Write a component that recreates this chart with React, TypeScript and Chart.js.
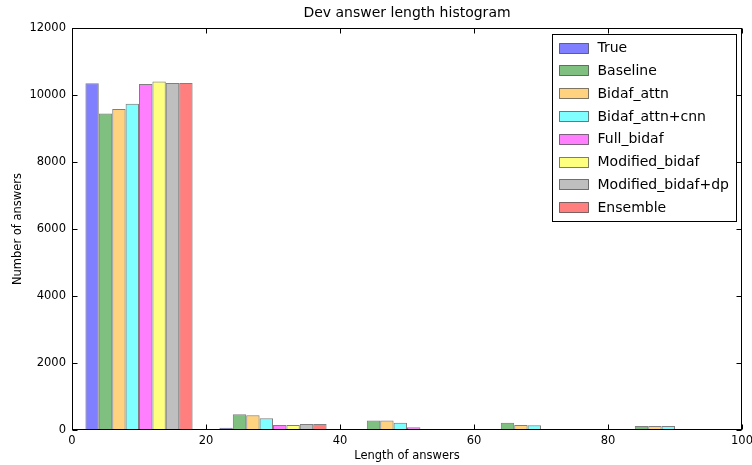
import React, { useEffect, useRef } from "react";
import { Chart, registerables } from "chart.js";

Chart.register(...registerables);

// ---- data ----
const binCenters = [10, 30, 50, 70, 90];
const xTickValues = [0, 20, 40, 60, 80, 100];
const yMax = 12000;
const yStep = 2000;

const seriesNames = [
  "True",
  "Baseline",
  "Bidaf_attn",
  "Bidaf_attn+cnn",
  "Full_bidaf",
  "Modified_bidaf",
  "Modified_bidaf+dp",
  "Ensemble",
];

const trueCounts = [10350, 70, 0, 0, 0];
const baselineCounts = [9450, 470, 280, 220, 120];
const bidafAttnCounts = [9580, 440, 280, 150, 120];
const bidafAttnCnnCounts = [9740, 350, 220, 140, 120];
const fullBidafCounts = [10330, 150, 80, 20, 20];
const modifiedBidafCounts = [10400, 150, 20, 20, 10];
const modifiedBidafDpCounts = [10360, 180, 20, 20, 20];
const ensembleCounts = [10360, 180, 20, 20, 20];

const seriesValues = [
  trueCounts,
  baselineCounts,
  bidafAttnCounts,
  bidafAttnCnnCounts,
  fullBidafCounts,
  modifiedBidafCounts,
  modifiedBidafDpCounts,
  ensembleCounts,
];

const seriesColors = [
  "rgba(0,0,255,0.5)",
  "rgba(0,128,0,0.5)",
  "rgba(255,165,0,0.5)",
  "rgba(0,255,255,0.5)",
  "rgba(255,0,255,0.5)",
  "rgba(255,255,0,0.5)",
  "rgba(128,128,128,0.5)",
  "rgba(255,0,0,0.5)",
];

const FONT = "'DejaVu Sans', sans-serif";

const mplPlugin = {
  id: "mplFrame",
  afterDraw(chart: any) {
    const { ctx, chartArea: a, scales } = chart;
    const L = Math.round(a.left) + 0.5;
    const R = Math.round(a.right) - 0.5;
    const T = Math.round(a.top) + 0.5;
    const B = Math.round(a.bottom) - 0.5;
    ctx.save();
    ctx.strokeStyle = "#000";
    ctx.lineWidth = 1;
    // ticks (inward, all sides)
    const tl = 5;
    ctx.beginPath();
    scales.x.ticks.forEach((t: any) => {
      const px = Math.round(scales.x.getPixelForValue(t.value)) + 0.5;
      ctx.moveTo(px, B);
      ctx.lineTo(px, B - tl);
      ctx.moveTo(px, T);
      ctx.lineTo(px, T + tl);
    });
    scales.y.ticks.forEach((t: any) => {
      const py = Math.round(scales.y.getPixelForValue(t.value)) + 0.5;
      ctx.moveTo(L, py);
      ctx.lineTo(L + tl, py);
      ctx.moveTo(R, py);
      ctx.lineTo(R - tl, py);
    });
    ctx.stroke();
    ctx.strokeRect(L, T, R - L, B - T);

    // legend
    const ds = chart.data.datasets;
    ctx.font = `14px ${FONT}`;
    let maxW = 0;
    ds.forEach((d: any) => {
      maxW = Math.max(maxW, ctx.measureText(d.label).width);
    });
    const rowH = 22.8;
    const padL = 6;
    const swW = 29;
    const swH = 10;
    const gap = 10;
    const padR = 8;
    const boxW = padL + swW + gap + maxW + padR;
    const boxH = rowH * ds.length + 5;
    const bx = Math.round(a.right - 6 - boxW) + 0.5;
    const by = Math.round(a.top + 6) + 0.5;
    ctx.fillStyle = "#fff";
    ctx.fillRect(bx, by, boxW, boxH);
    ctx.strokeStyle = "#000";
    ctx.strokeRect(bx, by, Math.round(boxW), Math.round(boxH));
    ctx.textBaseline = "middle";
    ctx.textAlign = "left";
    ds.forEach((d: any, i: number) => {
      const cy = by + 13 + i * rowH;
      const sx = Math.round(bx + padL) + 0.5;
      const sy = Math.round(cy - swH / 2) + 0.5;
      ctx.fillStyle = d.backgroundColor;
      ctx.fillRect(sx, sy, swW, swH);
      ctx.strokeStyle = "rgba(0,0,0,0.5)";
      ctx.strokeRect(sx, sy, swW, swH);
      ctx.fillStyle = "#000";
      ctx.fillText(d.label, bx + padL + swW + gap, cy + 1);
    });
    ctx.restore();
  },
};

export default function App() {
  const ref = useRef<HTMLCanvasElement>(null);
  useEffect(() => {
    if (!ref.current) return;
    Chart.defaults.color = "#000";
    const chart = new Chart(ref.current, {
      type: "bar",
      data: {
        datasets: seriesNames.map((name, i) => ({
          label: name,
          data: binCenters.map((x, j) => ({ x, y: seriesValues[i][j] })),
          backgroundColor: seriesColors[i],
          borderColor: "rgba(0,0,0,0.5)",
          borderWidth: 1,
          categoryPercentage: 0.8,
          barPercentage: 1.0,
        })),
      },
      options: {
        animation: false,
        responsive: false,
        devicePixelRatio: 1,
        layout: { padding: { left: 0, right: 0, top: 0, bottom: 0 } },
        plugins: {
          legend: { display: false },
          tooltip: { enabled: false },
          title: {
            display: true,
            text: "Dev answer length histogram",
            fullSize: false,
            color: "#000",
            font: { family: FONT, size: 14, weight: "normal" },
            padding: { top: 4.6, bottom: 6.6 },
          },
        },
        scales: {
          x: {
            type: "linear",
            min: 0,
            max: 100,
            offset: false,
            afterBuildTicks: (s: any) => {
              s.ticks = xTickValues.map((v) => ({ value: v }));
            },
            afterFit: (s: any) => {
              s.height = 35;
              s.paddingRight = 10;
              s.paddingLeft = 4;
            },
            grid: { display: false, drawTicks: false, offset: false },
            border: { display: false },
            ticks: {
              color: "#000",
              padding: 4,
              maxRotation: 0,
              font: { family: FONT, size: 11.5 },
              callback: (v: any) => String(v),
            },
            title: {
              display: true,
              text: "Length of answers",
              color: "#000",
              font: { family: FONT, size: 11.5 },
              padding: { top: 0, bottom: 2 },
            },
          },
          y: {
            type: "linear",
            min: 0,
            max: yMax,
            afterFit: (s: any) => {
              s.width = 72;
            },
            grid: { display: false, drawTicks: false },
            border: { display: false },
            ticks: {
              stepSize: yStep,
              color: "#000",
              padding: 6,
              font: { family: FONT, size: 11.5 },
              callback: (v: any) => String(v),
            },
            title: {
              display: true,
              text: "Number of answers",
              color: "#000",
              font: { family: FONT, size: 11.5 },
              padding: { top: 11, bottom: 0 },
            },
          },
        },
      },
      plugins: [mplPlugin],
    } as any);
    return () => chart.destroy();
  }, []);
  return (
    <div
      style={{
        position: "fixed",
        left: 0,
        top: 0,
        width: 752,
        height: 465,
        background: "#fff",
      }}
    >
      <canvas ref={ref} width={752} height={465} style={{ display: "block" }} />
    </div>
  );
}
